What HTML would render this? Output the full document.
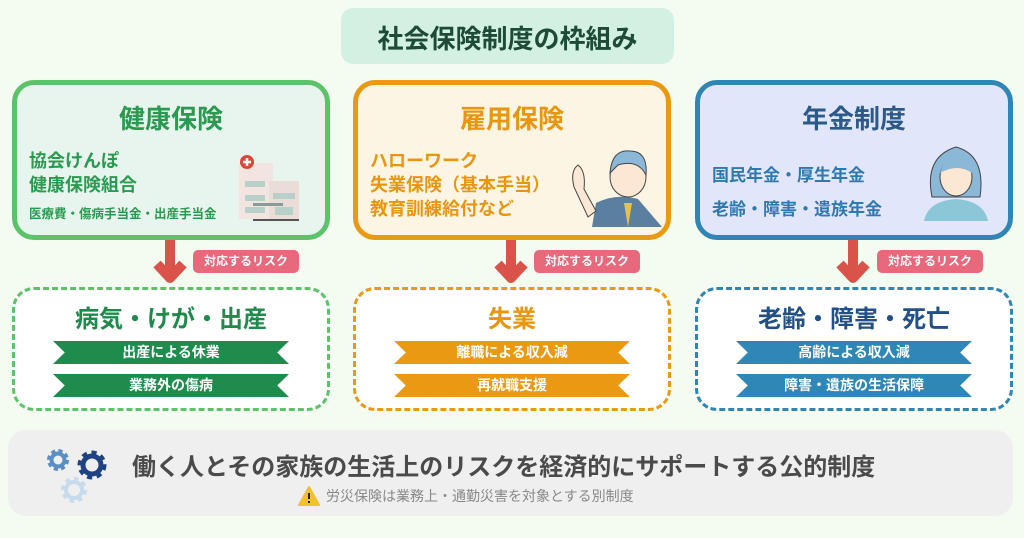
<!DOCTYPE html>
<html><head><meta charset="utf-8"><style>
*{margin:0;padding:0;box-sizing:border-box}
body{width:1024px;height:538px;background:#f4fcf2;position:relative;overflow:hidden;font-family:"Liberation Sans","Noto Sans CJK JP",sans-serif;font-weight:bold}
.a{position:absolute}
.t{position:absolute;white-space:nowrap}
.box{position:absolute;top:80px;width:318px;height:160px;border:5px solid;border-radius:22px}
.dash{position:absolute;top:287px;width:318px;height:124px;border:3px dashed;border-radius:22px;background:#fff}
.rib{position:absolute;height:23px;color:#fff;font-size:14px;text-align:center;line-height:23px;clip-path:polygon(0 0,100% 0,95% 50%,100% 100%,0 100%,5% 50%)}
.pill{position:absolute;width:106px;height:23px;background:#e8697c;border-radius:5px;color:#fff;font-size:12px;text-align:center;line-height:23px}
.ttl{position:absolute;width:100%;text-align:center;font-size:26px}
</style></head><body>
<div class="a" style="left:341px;top:8px;width:333px;height:56px;background:#d3f1e2;border-radius:12px"></div>
<div class="t" style="left:341px;top:19px;width:333px;text-align:center;font-size:26px;color:#1e4b38">社会保険制度の枠組み</div>

<div class="box" style="left:12px;border-color:#5cc36a;background:#e7f5ee">
 <div class="ttl" style="top:14px;color:#2a9a50">健康保険</div>
 <div class="t" style="left:12px;top:64px;font-size:18px;line-height:24px;color:#2a9a50">協会けんぽ<br>健康保険組合</div>
 <div class="t" style="left:12px;top:118px;font-size:12.5px;color:#2a9a50">医療費・傷病手当金・出産手当金</div>
 <svg class="a" style="left:218px;top:68px" width="66" height="68"><rect x="4" y="10" width="34" height="56" fill="#f2e4de"/><rect x="34" y="28" width="30" height="38" fill="#eadcd6"/><circle cx="12" cy="9" r="7" fill="#e0453b"/><path d="M12 5v8M8 9h8" stroke="#fff" stroke-width="2.5"/><g fill="#b9cfc9"><rect x="10" y="28" width="20" height="6"/><rect x="10" y="42" width="20" height="6"/><rect x="10" y="54" width="20" height="6"/><rect x="38" y="40" width="22" height="6"/><rect x="40" y="54" width="18" height="8"/></g><rect x="18" y="66" width="46" height="2" fill="#555"/><rect x="18" y="50" width="30" height="3" fill="#8a9a98"/></svg>
</div>
<div class="box" style="left:353px;border-color:#e99a12;background:#fdf5e4">
 <div class="ttl" style="top:14px;color:#e8960f">雇用保険</div>
 <div class="t" style="left:12px;top:64px;font-size:18px;line-height:24px;color:#e8960f">ハローワーク<br>失業保険（基本手当）<br>教育訓練給付など</div>
 <svg class="a" style="left:208px;top:56px" width="100" height="86"><path d="M26 86 L30 62 Q50 52 72 58 L96 86Z" fill="#5b7fa0"/><path d="M58 62 L62 86 L66 62Z" fill="#e8c04a"/><ellipse cx="62" cy="36" rx="18" ry="20" fill="#fbe7d4" stroke="#444"/><path d="M44 32 Q46 8 64 10 Q82 10 80 34 Q72 18 52 24Z" fill="#8cb8d8" stroke="#444"/><path d="M8 46 Q4 30 12 24 Q20 30 18 48 L30 70 L22 76Z" fill="#fbe7d4" stroke="#444"/></svg>
</div>
<div class="box" style="left:695px;border-color:#2f86b4;background:#e2e6fb">
 <div class="ttl" style="top:14px;color:#2b5a88">年金制度</div>
 <div class="t" style="left:12px;top:76px;font-size:17px;color:#2d79b0">国民年金・厚生年金</div>
 <div class="t" style="left:12px;top:110px;font-size:17px;color:#2d79b0">老齢・障害・遺族年金</div>
 <svg class="a" style="left:222px;top:52px" width="68" height="84"><path d="M2 84 Q6 64 34 62 Q62 64 66 84Z" fill="#8cc7d8"/><path d="M10 60 Q2 20 34 10 Q64 18 58 60Z" fill="#8cb8d8" stroke="#444"/><ellipse cx="34" cy="40" rx="16" ry="19" fill="#fbe7d4" stroke="#444"/><path d="M18 36 Q22 18 40 20 Q50 24 50 36 Q36 26 18 36Z" fill="#8cb8d8"/></svg>
</div>

<svg class="a" style="left:0;top:238px" width="1024" height="50">
 <g fill="none" stroke="#d9534a" stroke-width="10" stroke-linejoin="round">
  <path d="M170 2 V36 M157 26 L170 40 L183 26"/>
  <path d="M511 2 V36 M498 26 L511 40 L524 26"/>
  <path d="M853 2 V36 M840 26 L853 40 L866 26"/>
 </g>
</svg>
<div class="pill" style="left:193px;top:250px">対応するリスク</div>
<div class="pill" style="left:534px;top:250px">対応するリスク</div>
<div class="pill" style="left:877px;top:250px">対応するリスク</div>

<div class="dash" style="left:12px;border-color:#5cc36a">
 <div class="ttl" style="top:9px;font-size:24px;color:#1f8a4a">病気・けが・出産</div>
 <div class="rib" style="left:38px;top:51px;width:236px;background:#1e8c4c">出産による休業</div>
 <div class="rib" style="left:38px;top:84px;width:236px;background:#1e8c4c">業務外の傷病</div>
</div>
<div class="dash" style="left:353px;border-color:#e99a12">
 <div class="ttl" style="top:9px;font-size:24px;color:#e8960f">失業</div>
 <div class="rib" style="left:38px;top:51px;width:236px;background:#e99a12">離職による収入減</div>
 <div class="rib" style="left:38px;top:84px;width:236px;background:#e99a12">再就職支援</div>
</div>
<div class="dash" style="left:695px;border-color:#2f86b4">
 <div class="ttl" style="top:9px;font-size:24px;color:#214f86">老齢・障害・死亡</div>
 <div class="rib" style="left:38px;top:51px;width:236px;background:#2e87b6">高齢による収入減</div>
 <div class="rib" style="left:38px;top:84px;width:236px;background:#2e87b6">障害・遺族の生活保障</div>
</div>

<div class="a" style="left:8px;top:430px;width:1005px;height:86px;background:#efefef;border-radius:18px"></div>
<svg class="a" style="left:40px;top:443px" width="80" height="66">
 <g fill="none">
  <circle cx="34" cy="47" r="10" stroke="#c6dbec" stroke-width="6" stroke-dasharray="4 3.8"/>
  <circle cx="34" cy="47" r="8" stroke="#c6dbec" stroke-width="4"/>
  <circle cx="18" cy="17" r="8" stroke="#5b8ec4" stroke-width="6" stroke-dasharray="3.5 2.8"/>
  <circle cx="18" cy="17" r="6.5" stroke="#5b8ec4" stroke-width="4"/>
  <circle cx="52" cy="22" r="11" stroke="#1f4382" stroke-width="7" stroke-dasharray="4.5 4"/>
  <circle cx="52" cy="22" r="9" stroke="#1f4382" stroke-width="5"/>
 </g>
</svg>
<div class="t" style="left:132px;top:447px;font-size:24px;color:#4a4a4a">働く人とその家族の生活上のリスクを経済的にサポートする公的制度</div>
<svg class="a" style="left:298px;top:486px" width="22" height="20"><path d="M11 1 L21 19 L1 19Z" fill="#f2c12e" stroke="#f2c12e" stroke-linejoin="round" stroke-width="2"/><path d="M11 7v6M11 15v2" stroke="#222" stroke-width="2"/></svg>
<div class="t" style="left:326px;top:486px;font-size:14px;font-weight:normal;color:#888">労災保険は業務上・通勤災害を対象とする別制度</div>
</body></html>
